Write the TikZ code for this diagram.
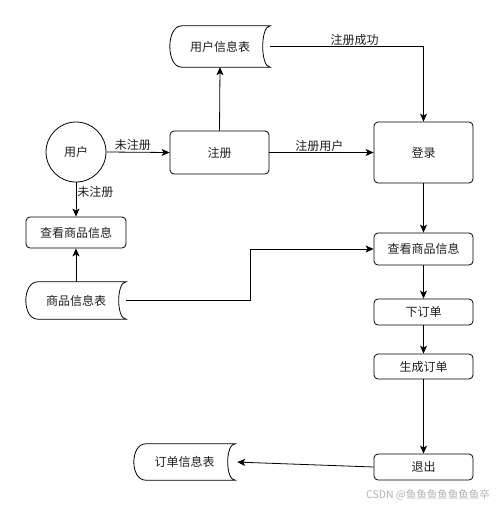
\documentclass[tikz,border=0pt]{standalone}
\usepackage{fontspec}
\newfontfamily\cjk{Noto Sans CJK SC}
\usetikzlibrary{arrows.meta,calc}
\tikzset{
  base/.style={font=\cjk\fontsize{12}{14}\selectfont, text=black!88},
  proc/.style={base, draw, rectangle, rounded corners=4pt, line width=0.8pt, inner sep=0pt},
  store/.style={base, draw=none, rectangle, inner sep=0pt},
  userc/.style={base, draw, circle, line width=0.8pt, minimum size=60pt, inner sep=0pt},
  conn/.style={line width=0.8pt, -{Stealth[length=8pt,width=7pt,inset=2pt]}},
  lbl/.style={base, inner sep=1pt}
}
\newcommand{\storeshape}[1]{%
  \draw[line width=0.8pt] ($(#1.north west)+(12,0)$) -- (#1.north east)
    .. controls ($(#1.north east)+(-10,0)$) and ($(#1.south east)+(-10,0)$) .. (#1.south east)
    -- ($(#1.south west)+(12,0)$)
    .. controls ($(#1.south west)+(-4,0)$) and ($(#1.north west)+(-4,0)$) .. cycle;}
\begin{document}
\begin{tikzpicture}[x=1pt,y=-1pt]
\useasboundingbox[fill=white] (0,0) rectangle (500,506);
% nodes
\node[userc] (user) at (76,152) {用户};
\node[proc, minimum width=99pt, minimum height=43pt] (reg) at (219.5,152.5) {注册};
\node[store, minimum width=100pt, minimum height=41pt] (uinfo) at (220,46.5) {用户信息表};
\node[proc, minimum width=99pt, minimum height=61pt] (login) at (423.5,152.5) {登录};
\node[proc, minimum width=100pt, minimum height=31pt] (view1) at (76,232.5) {查看商品信息};
\node[store, minimum width=100pt, minimum height=37pt] (ginfo) at (76,300.5) {商品信息表};
\node[proc, minimum width=99pt, minimum height=32pt] (view2) at (423.5,249) {查看商品信息};
\node[proc, minimum width=99pt, minimum height=26pt] (order) at (423.5,312) {下订单};
\node[proc, minimum width=99pt, minimum height=25pt] (gen) at (423.5,366.5) {生成订单};
\node[proc, minimum width=99pt, minimum height=26pt] (quit) at (423.5,467) {退出};
\node[store, minimum width=101pt, minimum height=36pt] (oinfo) at (184.5,462) {订单信息表};
\storeshape{uinfo}
\storeshape{ginfo}
\storeshape{oinfo}
% connectors
\draw[conn] (user.east) -- node[lbl, above, pos=0.42] {未注册} (reg.west);
\draw[conn] (user.south) -- node[lbl, right, pos=0.28] {未注册} (view1.north);
\draw[conn] (reg.north) -- (uinfo.south);
\draw[conn] (uinfo.east) -- node[lbl, above, pos=0.55] {注册成功} (uinfo.east -| login.north) -- (login.north);
\draw[conn] (reg.east) -- node[lbl, above, pos=0.48] {注册用户} (login.west);
\draw[conn] (login.south) -- (view2.north);
\draw[conn] (ginfo.north) -- (view1.south);
\draw[conn] (ginfo.east) -- ++(124,0) |- (view2.west);
\draw[conn] (view2.south) -- (order.north);
\draw[conn] (order.south) -- (gen.north);
\draw[conn] (gen.south) -- (quit.north);
\draw[conn, shorten >=2pt] (quit.west) -- (oinfo.east);
% watermark
\node[font=\cjk\fontsize{10.5}{12}\selectfont, text=black!30, inner sep=0pt] (wm) at (428,495) {CSDN @鱼鱼鱼鱼鱼鱼鱼卒};
\end{tikzpicture}
\end{document}
